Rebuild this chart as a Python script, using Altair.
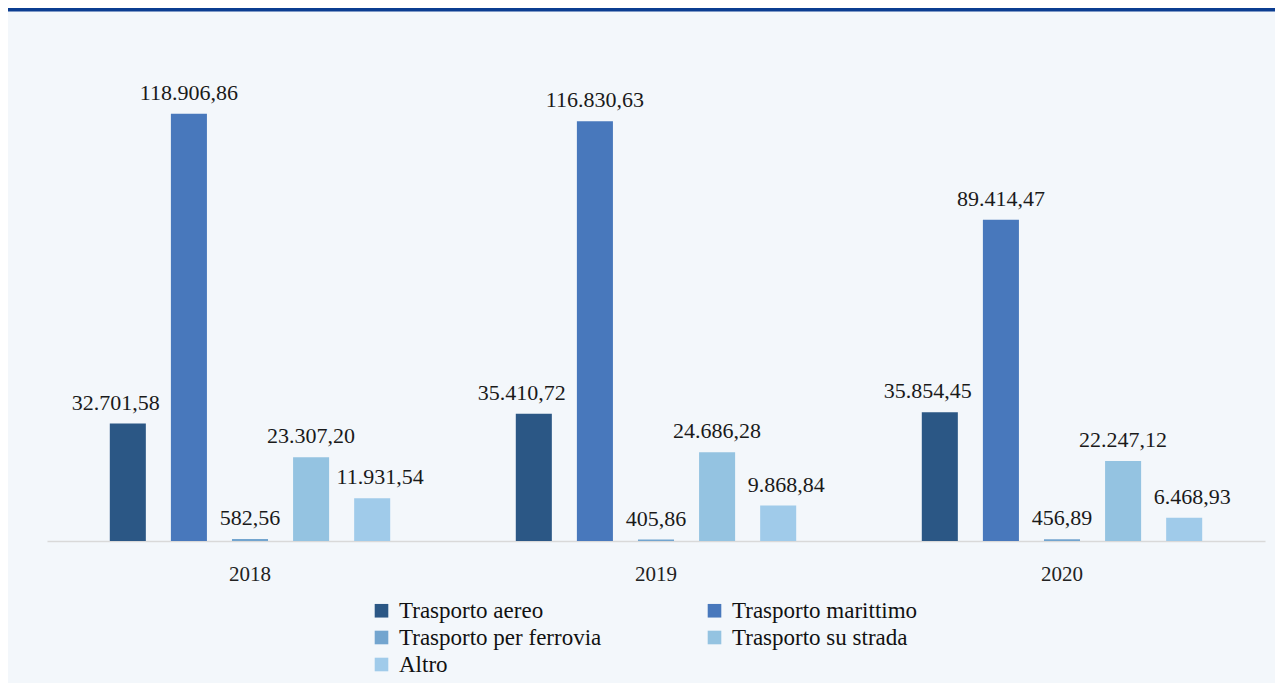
import altair as alt
import pandas as pd

years = ["2018", "2019", "2020"]
modes = ["Trasporto aereo", "Trasporto marittimo", "Trasporto per ferrovia",
         "Trasporto su strada", "Altro"]
colors = ["#2B5785", "#4878BC", "#73A5CF", "#94C3E1", "#A0CBEA"]
values_2018 = [32701.58, 118906.86, 582.56, 23307.20, 11931.54]
values_2019 = [35410.72, 116830.63, 405.86, 24686.28, 9868.84]
values_2020 = [35854.45, 89414.47, 456.89, 22247.12, 6468.93]


def it_fmt(v):
    s = f"{v:,.2f}"
    return s.replace(",", "X").replace(".", ",").replace("X", ".")


rows = []
for y, vals in zip(years, [values_2018, values_2019, values_2020]):
    for m, v in zip(modes, vals):
        rows.append({"anno": y, "modo": m, "valore": v, "etichetta": it_fmt(v)})
df = pd.DataFrame(rows)

FONT = "'Liberation Serif', 'DejaVu Serif', serif"
W, H = 1218, 503
# horizontal nudge of the value labels per series (style only)
label_dx = {"Trasporto aereo": -12, "Altro": 8}

base = alt.Chart(df).encode(
    x=alt.X("anno:N", sort=years, title=None,
            scale=alt.Scale(paddingInner=0.0084, paddingOuter=0.0042),
            axis=alt.Axis(labelAngle=0, ticks=False, labelFontSize=21, labelFont=FONT,
                          labelColor="#222222", labelPadding=22,
                          domainColor="#D9D9D9", domainWidth=1.5, grid=False)),
    xOffset=alt.XOffset("modo:N", sort=modes,
                        scale=alt.Scale(paddingInner=0.41, paddingOuter=1.0)),
)

bars = base.mark_bar().encode(
    y=alt.Y("valore:Q", scale=alt.Scale(domain=[0, 139000]), axis=None),
    color=alt.Color("modo:N", sort=modes,
                    scale=alt.Scale(domain=modes, range=colors),
                    legend=alt.Legend(title=None, orient="none", legendX=323, legendY=561,
                                      direction="horizontal",
                                      columns=2, symbolType="square", symbolSize=185,
                                      symbolStrokeWidth=0, labelFontSize=23, labelFont=FONT,
                                      labelColor="#111111", columnPadding=101,
                                      labelOffset=6,
                                      rowPadding=3, labelLimit=400, symbolOffset=0)),
)

text_layers = []
for m in modes:
    text_layers.append(
        base.transform_filter(alt.datum.modo == m).mark_text(
            baseline="alphabetic", dy=-14, dx=label_dx.get(m, 0), fontSize=22,
            font=FONT, color="#1A1A1A"
        ).encode(
            y=alt.Y("valore:Q"),
            text="etichetta:N",
        )
    )

topbar = alt.Chart(alt.Data(values=[{}])).mark_rule(color="#0B3D91", strokeWidth=3.5).encode(
    x=alt.value(-39), x2=alt.value(1228), y=alt.value(-28.2)
)

chart = alt.layer(bars, *text_layers, topbar).properties(
    width=W, height=H,
    autosize=alt.AutoSizeParams(type="none"),
    padding={"left": 39, "top": 30, "right": 10, "bottom": 142},
    background="#F3F7FB",
).configure_view(stroke=None)

chart.save("out.html", embed_options={"renderer": "svg", "actions": False})
